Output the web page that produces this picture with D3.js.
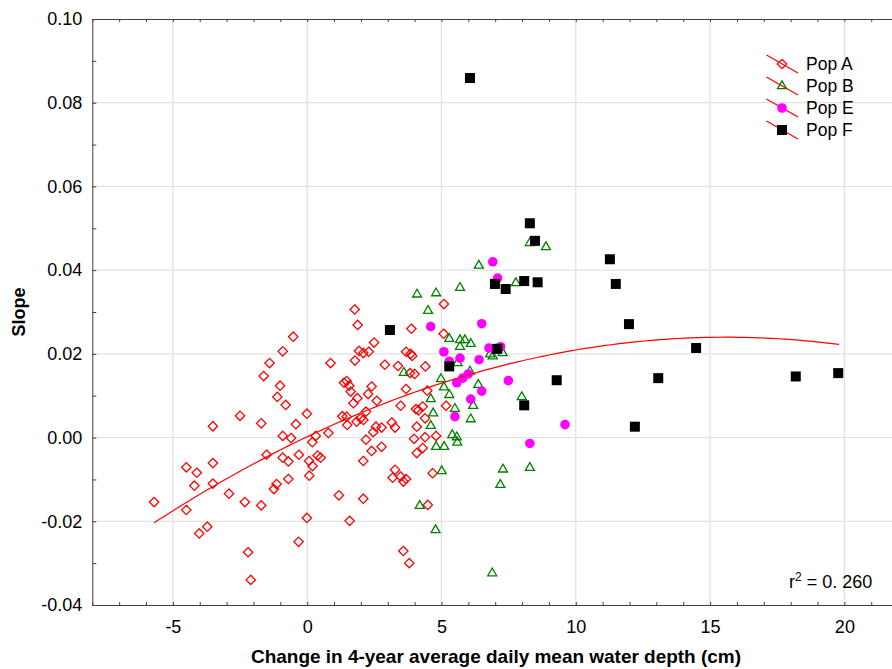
<!DOCTYPE html>
<html>
<head>
<meta charset="utf-8">
<script src="https://cdn.jsdelivr.net/npm/d3@7"></script>
<style>
  body { margin: 0; background: #fff; }
  svg { display: block; font-family: "Liberation Sans", Arial, sans-serif; }
  .grid line { stroke: #e2e2e2; stroke-width: 1.3; }
  .axis path, .axis line { stroke: #404040; }
  .axis text { font-size: 18px; fill: #000; font-family: "Liberation Sans", Arial, sans-serif; }
</style>
</head>
<body>
<svg width="892" height="669"></svg>
<script>
// data: [change in water depth (cm), slope]
var popA = [
  [-5.70,-0.0154],[-4.50,-0.0173],[-4.50,-0.0071],[-4.11,-0.0084],[-4.20,-0.0115],[-4.02,-0.0229],
  [-3.72,-0.0213],[-3.51,0.0027],[-3.51,-0.0061],[-3.51,-0.0110],[-2.91,-0.0134],[-2.50,0.0052],
  [-2.32,-0.0154],[-2.20,-0.0274],[-2.10,-0.0340],[-1.71,0.0034],[-1.71,-0.0162],[-1.62,0.0147],
  [-1.40,0.0178],[-1.51,-0.0041],[-1.01,0.0124],[-0.91,0.0206],[-0.52,0.0241],[-1.11,0.0097],
  [-0.80,0.0078],[-0.91,0.0004],[-0.60,-0.0001],[-0.42,0.0032],[-0.91,-0.0048],[-0.70,-0.0057],
  [-0.31,-0.0041],[-1.14,-0.0111],[-1.24,-0.0123],[-0.70,-0.0099],[-0.32,-0.0249],[-0.01,0.0057],
  [-0.01,-0.0192],[0.07,-0.0056],[0.19,-0.0011],[0.32,0.0004],[0.20,-0.0068],[0.08,-0.0091],
  [0.39,-0.0043],[0.50,-0.0048],[0.79,0.0011],[0.87,0.0178],[1.18,-0.0138],[1.58,-0.0199],
  [1.77,0.0306],[1.88,0.0269],[1.78,0.0184],[1.93,0.0207],[1.37,0.0131],[1.47,0.0135],
  [1.57,0.0124],[1.62,0.0110],[1.72,0.0082],[1.31,0.0051],[1.47,0.0050],[1.49,0.0030],
  [1.84,0.0038],[2.49,0.0227],[2.09,0.0202],[2.29,0.0205],[2.89,0.0174],[3.38,0.0171],
  [3.88,0.0260],[5.09,0.0319],[5.08,0.0248],[3.68,0.0205],[3.85,0.0200],[3.91,0.0195],
  [4.40,0.0170],[3.83,0.0154],[4.00,0.0152],[2.40,0.0122],[2.27,0.0104],[2.59,0.0088],
  [1.87,0.0094],[3.68,0.0116],[4.47,0.0112],[3.48,0.0076],[4.05,0.0068],[4.14,0.0065],
  [4.30,0.0074],[5.17,0.0076],[1.99,0.0046],[2.09,0.0042],[2.19,0.0062],[2.56,0.0026],
  [2.77,0.0024],[2.46,0.0013],[3.15,0.0036],[3.27,0.0024],[4.08,0.0026],[4.39,0.0046],
  [4.80,0.0004],[3.98,-0.0003],[4.39,0.0001],[2.19,-0.0005],[2.40,-0.0032],[2.77,-0.0022],
  [2.09,-0.0056],[4.08,-0.0037],[4.30,-0.0025],[3.27,-0.0077],[3.18,-0.0096],[3.48,-0.0093],
  [3.58,-0.0105],[3.68,-0.0099],[4.67,-0.0085],[2.09,-0.0146],[4.49,-0.0161],[3.58,-0.0271],
  [3.80,-0.0300]
];
var popB = [
  [8.29,0.0465],[8.89,0.0455],[6.39,0.0411],[7.77,0.0369],[4.09,0.0342],[4.80,0.0345],
  [5.69,0.0358],[4.50,0.0303],[5.29,0.0236],[5.69,0.0233],[5.87,0.0233],[6.09,0.0224],
  [5.69,0.0217],[6.81,0.0199],[6.91,0.0194],[7.28,0.0202],[5.60,0.0178],[3.60,0.0155],
  [6.06,0.0158],[4.98,0.0140],[5.09,0.0120],[6.37,0.0126],[5.29,0.0102],[4.60,0.0092],
  [5.50,0.0069],[6.18,0.0076],[7.99,0.0097],[4.69,0.0058],[4.60,0.0028],[6.09,0.0044],
  [5.40,0.0006],[5.57,0.0001],[5.59,-0.0012],[4.80,-0.0022],[5.10,-0.0022],[5.01,-0.0080],
  [7.29,-0.0076],[8.29,-0.0072],[7.19,-0.0113],[4.19,-0.0163],[4.78,-0.0221],[6.89,-0.0324]
];
var popE = [
  [6.91,0.0420],[7.09,0.0381],[4.60,0.0265],[6.50,0.0272],[5.09,0.0205],[5.29,0.0182],
  [5.69,0.0190],[6.40,0.0186],[6.77,0.0214],[7.20,0.0217],[5.57,0.0131],[5.79,0.0142],
  [6.00,0.0152],[7.49,0.0136],[6.50,0.0111],[6.09,0.0092],[5.50,0.0050],[9.60,0.0031],
  [8.29,-0.0014]
];
var popF = [
  [6.06,0.0859],[8.29,0.0512],[8.48,0.0470],[6.99,0.0367],[7.39,0.0355],[8.08,0.0374],
  [8.58,0.0371],[3.08,0.0257],[7.08,0.0212],[5.29,0.0170],[9.29,0.0137],[8.08,0.0077],
  [11.27,0.0426],[11.49,0.0367],[11.98,0.0271],[14.48,0.0214],[13.07,0.0142],[12.20,0.0026],
  [18.19,0.0146],[19.77,0.0154]
];
var legendNames = ["Pop A", "Pop B", "Pop E", "Pop F"];

// quadratic fit over all points (a + b*x + c*x^2), drawn from xmin to xmax
var fitCoef = [0.0002, 0.00305, -0.0000978];
var fitRange = [-5.7, 19.8];
var r2Text = "0. 260";

var xTicks = d3.range(-8, 23, 1);
var yTicks = d3.range(-4, 11, 1).map(function(k) { return k / 100; });

var svg = d3.select("svg"),
    width = +svg.attr("width"),
    height = +svg.attr("height");

var plotLeft = 92.3, plotTop = 19, plotBottom = 605;

var x = d3.scaleLinear().domain([-8, 22]).range([plotLeft, plotLeft + 30 * 26.86]);
var y = d3.scaleLinear().domain([-0.04, 0.10]).range([plotBottom, plotTop]);

// grid
var grid = svg.append("g").attr("class", "grid");
grid.selectAll(".vx")
  .data([-5, 0, 5, 10, 15, 20])
  .enter().append("line")
    .attr("x1", function(d) { return x(d); })
    .attr("x2", function(d) { return x(d); })
    .attr("y1", plotTop).attr("y2", plotBottom);
grid.selectAll(".hy")
  .data([-0.02, 0, 0.02, 0.04, 0.06, 0.08])
  .enter().append("line")
    .attr("y1", function(d) { return y(d); })
    .attr("y2", function(d) { return y(d); })
    .attr("x1", plotLeft).attr("x2", width);

// axes (ticks point inward), plain hyphen for minus
var fmtX = function(d) { return d % 5 === 0 ? String(d) : ""; };
svg.append("g")
  .attr("class", "axis")
  .attr("transform", "translate(0," + plotBottom + ")")
  .call(d3.axisBottom(x).tickValues(xTicks).tickSize(-3).tickSizeOuter(0).tickPadding(15).tickFormat(fmtX));

svg.append("g")
  .attr("class", "axis")
  .attr("transform", "translate(0," + plotTop + ")")
  .call(d3.axisTop(x).tickValues(xTicks).tickSize(-3).tickSizeOuter(0).tickFormat(""));

var fmtY = function(d) {
  var k = Math.round(d * 100);
  return k % 2 === 0 ? (k / 100).toFixed(2) : "";
};
svg.append("g")
  .attr("class", "axis")
  .attr("transform", "translate(" + plotLeft + ",0)")
  .call(d3.axisLeft(y).tickValues(yTicks).tickSize(-4).tickSizeOuter(0).tickPadding(10).tickFormat(fmtY));

// axis titles
svg.append("text")
  .attr("x", 496).attr("y", 663)
  .attr("text-anchor", "middle")
  .attr("textLength", 490).attr("lengthAdjust", "spacingAndGlyphs")
  .style("font-size", "18.5px").style("font-weight", "bold")
  .text("Change in 4-year average daily mean water depth (cm)");

svg.append("text")
  .attr("transform", "translate(25,312) rotate(-90)")
  .attr("text-anchor", "middle")
  .style("font-size", "18px").style("font-weight", "bold")
  .text("Slope");

// symbols
var symA = d3.symbol().type(d3.symbolDiamond2).size(56);
var symB = d3.symbol().type(d3.symbolTriangle2).size(58);

function drawA(g) {
  g.append("path").attr("d", symA).attr("fill", "none").attr("stroke", "#ff0000").attr("stroke-width", 1.3);
}
function drawB(g) {
  g.append("path").attr("d", symB).attr("fill", "none").attr("stroke", "#008000").attr("stroke-width", 1.3);
}
function drawE(g) {
  g.append("circle").attr("r", 4.8).attr("fill", "#ff00ff");
}
function drawF(g) {
  g.append("rect").attr("x", -5).attr("y", -5).attr("width", 10).attr("height", 10).attr("fill", "#000");
}
var drawers = [drawA, drawB, drawE, drawF];

var pts = svg.append("g");
[popA, popB, popE, popF].forEach(function(series, i) {
  pts.append("g")
    .selectAll("g")
    .data(series)
    .enter().append("g")
      .attr("transform", function(d) { return "translate(" + x(d[0]) + "," + y(d[1]) + ")"; })
      .each(function() { drawers[i](d3.select(this)); });
});

// fit curve
var fitX = d3.range(fitRange[0], fitRange[1], 0.25).concat([fitRange[1]]);
var line = d3.line()
  .x(function(d) { return x(d); })
  .y(function(d) { return y(fitCoef[0] + fitCoef[1] * d + fitCoef[2] * d * d); });
svg.append("path")
  .datum(fitX)
  .attr("d", line)
  .attr("fill", "none")
  .attr("stroke", "#ff0000")
  .attr("stroke-width", 1.2);

// legend
var legend = svg.append("g").attr("transform", "translate(782,64)");
legendNames.forEach(function(name, i) {
  var row = legend.append("g").attr("transform", "translate(0," + (i * 22) + ")");
  row.append("line")
    .attr("x1", -15.5).attr("y1", -9).attr("x2", 16).attr("y2", 9)
    .attr("stroke", "#ff0000").attr("stroke-width", 1.2);
  drawers[i](row);
  row.append("text")
    .attr("x", 24).attr("y", 0).attr("dy", "0.36em")
    .style("font-size", "17.5px")
    .text(name);
});

// r squared
var r2 = svg.append("text").attr("x", 789).attr("y", 588).style("font-size", "18px");
r2.append("tspan").text("r");
r2.append("tspan").attr("dy", -7).style("font-size", "12px").text("2");
r2.append("tspan").attr("dy", 7).text(" = " + r2Text);
</script>
</body>
</html>
